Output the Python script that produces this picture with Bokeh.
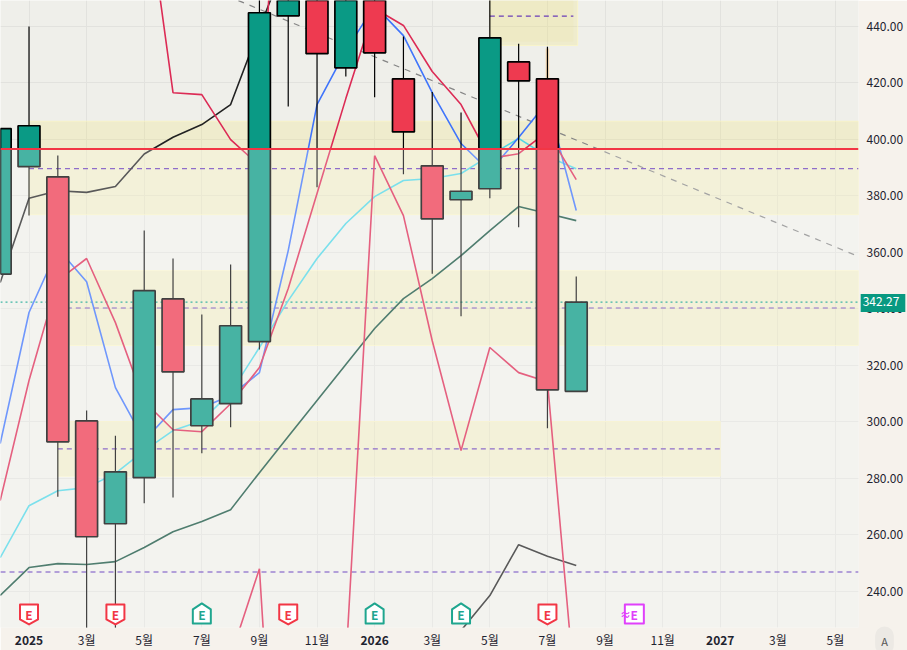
from bokeh.plotting import figure
from bokeh.models import FixedTicker, Label, NumeralTickFormatter
from bokeh.embed import file_html
from bokeh.resources import INLINE

# candles (month index: 0 = Jan 2025)
idx    = [-1, 0, 1, 2, 3, 4, 5, 6, 7, 8, 9, 10, 11, 12, 13, 14, 15, 16, 17, 18, 19]
opens  = [352.2, 390.2, 386.6, 300.2, 263.8, 280.1, 343.4, 298.5, 306.3, 328.3, 443.6, 470.0, 425.2, 470.0, 421.3, 390.5, 378.5, 382.4, 427.3, 421.3, 310.7]
highs  = [403.7, 439.8, 394.2, 303.9, 295.0, 367.6, 357.7, 337.9, 355.6, 455.0, 470.0, 470.0, 470.0, 470.0, 436.3, 416.6, 409.4, 455.0, 433.7, 432.7, 351.3]
lows   = [352.2, 372.9, 273.4, 220.0, 226.0, 271.1, 273.1, 288.8, 298.0, 325.5, 411.5, 382.9, 422.1, 414.8, 387.5, 352.3, 337.3, 379.0, 368.8, 297.6, 310.7]
closes = [403.7, 404.7, 292.8, 259.2, 282.2, 346.3, 317.6, 308.0, 333.9, 444.7, 460.0, 430.2, 460.0, 430.5, 402.5, 371.7, 381.5, 435.8, 420.6, 311.2, 342.27]

# moving averages and other series
blue_ma  = [292.2, 338.6, 361.2, 349.5, 312.0, 293.3, 304.2, 304.9, 309.2, 317.3, 360.5, 412.2, 431.3, 447.2, 436.6, 416.4, 398.4, 388.5, 400.5, 413.2, 374.7]
red_ma   = [272.0, 314.5, 349.9, 357.7, 335.0, 307.1, 297.1, 296.4, 306.3, 319.1, 347.1, 380.7, 414.3, 446.2, 440.2, 423.9, 412.2, 393.1, 394.8, 402.6, 385.6]
cyan_ma  = [251.8, 270.2, 275.5, 276.6, 281.6, 289.7, 296.8, 300.3, 310.2, 326.2, 342.8, 357.7, 370.1, 379.6, 385.3, 386.0, 387.8, 394.1, 400.2, 393.8, 389.5]
green_ma = [238.4, 248.3, 249.7, 249.4, 250.4, 255.4, 261.0, 264.6, 268.8, 281.9, 294.7, 307.4, 320.2, 332.9, 343.5, 350.6, 358.7, 367.6, 376.1, 373.6, 371.1]
black_a_x = [-1, 0, 1, 2, 3, 4, 5, 6, 7, 8, 9]
black_a_y = [349.2, 379.0, 381.7, 381.1, 383.2, 394.7, 400.6, 405.1, 412.2, 439.1, 465.3]
black_b_x = [15, 16, 17, 18, 19]
black_b_y = [226.0, 238.4, 256.4, 252.3, 249.0]
pink_a_x = [4, 5, 6, 7, 8, 9]
pink_a_y = [490.8, 416.4, 415.7, 399.8, 390.6, 572.9]
pink_b_x = [7, 8, 9]
pink_b_y = [216.8, 247.9, 84.4]
pink_c_x = [11, 12, 13, 14, 15, 16, 17, 18, 19]
pink_c_y = [214.3, 394.1, 372.9, 328.6, 289.7, 326.2, 317.3, 314.1, 199.4]

# zones: left, right, top, bottom
zone_left   = [0.0, 1.0, 1.0, 16.0]
zone_right  = [28.8, 28.8, 24.0, 19.05]
zone_top    = [406.3, 353.4, 300.0, 452.0]
zone_bottom = [373.2, 326.9, 280.6, 433.1]
inner_left, inner_right, inner_top, inner_bottom = 16.0, 18.9, 452.0, 434.5

# purple levels: left, right, value
level_left  = [0.0, 1.0, 1.0, 16.0]
level_right = [28.8, 28.8, 24.0, 18.9]
level_value = [389.5, 340.2, 290.3, 443.5]
low_level = 246.7
red_level = 396.46
last_price = 342.27
trend_x = [7.27, 28.8]
trend_y = [449.0, 358.4]

# axes
y_ticks = [240, 260, 280, 300, 320, 340, 360, 380, 400, 420, 440]
x_ticks = [0, 2, 4, 6, 8, 10, 12, 14, 16, 18, 20, 22, 24, 26, 28]
x_names = ["2025", "3월", "5월", "7월", "9월", "11월", "2026", "3월", "5월", "7월", "9월", "11월", "2027", "3월", "5월"]
years = ["2025", "2026", "2027"]

# earnings markers
shield_idx = [0, 3, 9, 18]
house_idx = [6, 12, 15]
future_idx = 21

X0, X1, Y0, Y1 = -0.99, 28.8, 227.08, 449.03
PXX, PXY = 28.8, 2.825   # reference pixels per month / per price unit
FW, FH = 858, 627
FONT = "Noto Sans CJK KR"

p = figure(frame_width=FW, frame_height=FH, x_range=(X0, X1), y_range=(Y0, Y1),
           output_backend="svg", toolbar_location=None, y_axis_location="right",
           min_border_left=0, min_border_top=0, min_border_right=49, min_border_bottom=23)
p.background_fill_color = "#EFEFEA"
p.border_fill_color = "#F6F2EC"
p.outline_line_color = None

p.xaxis.ticker = FixedTicker(ticks=x_ticks)
p.xaxis.major_label_overrides = {t: ("" if n in years else n) for t, n in zip(x_ticks, x_names)}
p.yaxis.ticker = FixedTicker(ticks=y_ticks)
p.yaxis.formatter = NumeralTickFormatter(format="0.00")
for ax in (p.xaxis[0], p.yaxis[0]):
    ax.axis_line_color = None
    ax.major_tick_out = 0
    ax.major_tick_in = 0
    ax.minor_tick_out = 0
    ax.minor_tick_in = 0
    ax.major_tick_line_color = None
    ax.minor_tick_line_color = None
    ax.major_label_text_font = FONT
    ax.major_label_text_font_size = "12px"
    ax.major_label_text_color = "#1F2430"
p.yaxis.major_label_standoff = 8
p.xaxis.major_label_standoff = 3
p.xgrid.ticker = FixedTicker(ticks=x_ticks)
p.ygrid.ticker = FixedTicker(ticks=y_ticks)
p.grid.grid_line_color = "#E2E2DE"
p.grid.grid_line_width = 1

# zones
p.quad(left=zone_left, right=zone_right, top=zone_top, bottom=zone_bottom,
       fill_color="#F2E36A", fill_alpha=0.22, line_color="#FFF8C0", line_alpha=0.6, line_width=1)
p.quad(left=[inner_left], right=[inner_right], top=[inner_top], bottom=[inner_bottom],
       fill_color="#E8DE78", fill_alpha=0.08, line_color=None)

# levels
p.segment(x0=level_left, x1=level_right, y0=level_value, y1=level_value,
          line_color="#6A3DB8", line_width=1.1, line_dash="5 4")
p.segment(x0=[X0], x1=[X1], y0=[low_level], y1=[low_level],
          line_color="#4410B0", line_width=1.1, line_dash="5 4")
p.segment(x0=[X0], x1=[X1], y0=[last_price], y1=[last_price],
          line_color="#009E86", line_width=1.3, line_dash="2 3")
p.line(trend_x, trend_y, line_color="#858585", line_width=1.2, line_dash="6 6")

# series
LW = 1.6
p.line(idx, cyan_ma, line_color="#4FD6E6", line_width=LW)
p.line(idx, blue_ma, line_color="#3F74FB", line_width=LW)
p.line(idx, red_ma, line_color="#DC2B55", line_width=LW)
p.line(idx, green_ma, line_color="#15523F", line_width=LW)
p.line(black_a_x, black_a_y, line_color="#222222", line_width=LW)
p.line(black_b_x, black_b_y, line_color="#222222", line_width=LW)
p.line(pink_a_x, pink_a_y, line_color="#DC2B55", line_width=LW)
p.line(pink_b_x, pink_b_y, line_color="#DC2B55", line_width=LW)
p.line(pink_c_x, pink_c_y, line_color="#DC2B55", line_width=LW)

# candles
p.segment(x0=[18], x1=[18], y0=[432.0], y1=[421.3], line_color="#F5D9B4", line_width=3.5)
p.segment(x0=idx, x1=idx, y0=lows, y1=highs, line_color="#000000", line_width=1.2)
colors = ["#0A9A85" if c >= o else "#EE3A50" for o, c in zip(opens, closes)]
p.vbar(x=idx, width=0.76, bottom=[min(o, c) for o, c in zip(opens, closes)],
       top=[max(o, c) for o, c in zip(opens, closes)],
       fill_color=colors, line_color="#000000", line_width=1.7)

# pale wash below the red level
p.quad(left=[X0], right=[X1], top=[red_level], bottom=[Y0 - 20],
       fill_color="#FFFFFF", fill_alpha=0.25, line_color=None)
p.segment(x0=[X0], x1=[X1], y0=[red_level], y1=[red_level], line_color="#F23645", line_width=2)

# earnings markers
ICON_Y = 231.7
def shape(cx, pts):
    return [cx + dx / PXX for dx, _ in pts], [ICON_Y - dy / PXY for _, dy in pts]

def txt(x, y, text, **kw):
    opts = dict(x=x, y=y, text=text, text_align="center", text_baseline="middle",
                text_font=FONT, text_font_size="12px", text_color="#1F2430")
    opts.update(kw)
    p.add_layout(Label(**opts))

shield = [(-9, -10), (9, -10), (9, 5), (0, 10), (-9, 5)]
house = [(0, -11), (9, -5), (9, 9), (-9, 9), (-9, -5)]
square = [(-9, -10), (10, -10), (10, 9), (-9, 9)]
for group, pts, col in ((shield_idx, shield, "#F23645"), (house_idx, house, "#1FA68F")):
    xs, ys = zip(*[shape(i, pts) for i in group])
    p.patches(list(xs), list(ys), fill_color="#FFFFFF", line_color=col, line_width=2, line_join="round")
    for i in group:
        txt(i, ICON_Y, "E", text_color=col, text_font_style="bold", text_font_size="12px")
xs, ys = shape(future_idx, square)
p.patch(xs, ys, fill_color="#FFFFFF", line_color="#E040FB", line_width=2, line_join="round")
txt(future_idx + 0.01, ICON_Y, "E", text_color="#E040FB", text_font_style="bold")
txt(future_idx - 0.29, ICON_Y, "≈", text_color="#E040FB", text_font_style="bold", text_font_size="11px")

# labels that live in the side panels
def side_txt(place, x, y, text, **kw):
    opts = dict(x=x, y=y, x_units="canvas", y_units="canvas", text=text, text_align="center",
                text_baseline="middle", text_font=FONT, text_font_size="12px", text_color="#1F2430")
    opts.update(kw)
    p.add_layout(Label(**opts), place)

for t, n in zip(x_ticks, x_names):
    if n in years:
        side_txt("below", (t - X0) * FW / (X1 - X0), 640, n, text_font_style="bold")

side_txt("right", 882.5, (Y1 - last_price) * FH / (Y1 - Y0) + 1, f"{last_price:.2f}", text_color="#FFFFFF",
         background_fill_color="#089981", padding=[2, 6, 3, 6])
side_txt("below", 884, 640, "A", text_color="#555555", text_font_size="11px",
         background_fill_color="#ECE9E4", border_radius=12, padding=6)

open("out.html", "w").write(file_html(p, INLINE))
